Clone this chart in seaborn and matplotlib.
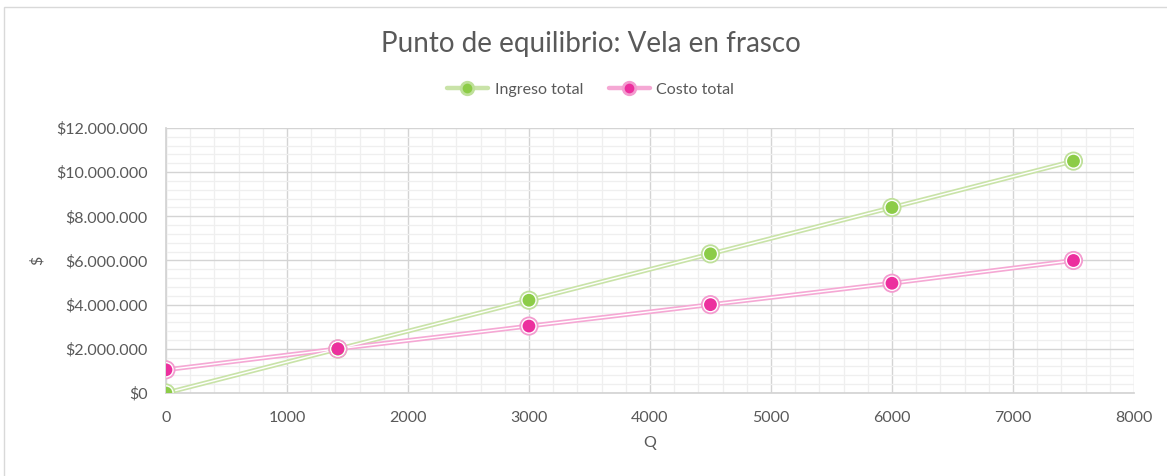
import matplotlib
matplotlib.use("Agg")
import matplotlib.pyplot as plt
import seaborn as sns
import pandas as pd
from matplotlib.ticker import FuncFormatter, MultipleLocator
from matplotlib.patches import Rectangle
from matplotlib.lines import Line2D

# Data
q = [0, 1421, 3000, 4500, 6000, 7500]
ingreso_total = [0, 1990000, 4200000, 6300000, 8400000, 10500000]
costo_total = [1050000, 2000000, 3030000, 4000000, 4970000, 6000000]
series_names = ["Ingreso total", "Costo total"]
title = "Punto de equilibrio: Vela en frasco"

df = pd.DataFrame({
    "Q": q * 2,
    "valor": ingreso_total + costo_total,
    "serie": [series_names[0]] * len(q) + [series_names[1]] * len(q),
})

sns.set_theme(style="white")
plt.rcParams["font.family"] = ["Lato", "DejaVu Sans"]

line_col = {"Ingreso total": "#c9e3a8", "Costo total": "#f5a8d4"}
mark_col = {"Ingreso total": "#8ccc47", "Costo total": "#ec2f9e"}
ring_col = {"Ingreso total": "#bfe09a", "Costo total": "#f39bcf"}
text_col = "#595959"

fig = plt.figure(figsize=(11.67, 4.76), dpi=100)
ax = fig.add_axes([0.1422, 0.1744, 0.9717 - 0.1422, 0.7311 - 0.1744])

# double-line effect: thick light line then thin white line
sns.lineplot(data=df, x="Q", y="valor", hue="serie", palette=line_col,
             linewidth=3.4, ax=ax, legend=False, zorder=3)
sns.lineplot(data=df, x="Q", y="valor", hue="serie",
             palette={k: "white" for k in series_names},
             linewidth=1.0, ax=ax, legend=False, zorder=4)
# markers: light ring with white gap and dark center
sns.scatterplot(data=df, x="Q", y="valor", hue="serie", palette=ring_col,
                s=190, linewidth=0, ax=ax, legend=False, zorder=5)
sns.scatterplot(data=df, x="Q", y="valor", hue="serie",
                palette={k: "white" for k in series_names},
                s=125, linewidth=0, ax=ax, legend=False, zorder=6)
sns.scatterplot(data=df, x="Q", y="valor", hue="serie", palette=mark_col,
                s=85, linewidth=0, ax=ax, legend=False, zorder=7)

ax.set_xlim(0, 8000)
ax.set_ylim(0, 12000000)
ax.xaxis.set_major_locator(MultipleLocator(1000))
ax.xaxis.set_minor_locator(MultipleLocator(200))
ax.yaxis.set_major_locator(MultipleLocator(2000000))
ax.yaxis.set_minor_locator(MultipleLocator(400000))
ax.grid(which="major", color="#d4d4d4", linewidth=1.0, zorder=0)
ax.grid(which="minor", color="#efefef", linewidth=0.9, zorder=0)
ax.set_axisbelow(True)

def money(v, pos):
    return "$" + f"{int(round(v)):,}".replace(",", ".")

ax.yaxis.set_major_formatter(FuncFormatter(money))
ax.tick_params(axis="both", which="both", length=0, labelsize=11.5,
               colors=text_col)
ax.tick_params(axis="y", pad=13)
ax.tick_params(axis="x", pad=13)
for s in ax.spines.values():
    s.set_visible(False)
ax.spines["left"].set_visible(True)
ax.spines["left"].set_color("#d4d4d4")
ax.spines["bottom"].set_visible(True)
ax.spines["bottom"].set_color("#d4d4d4")

ax.set_xlabel("Q", fontsize=11.5, color=text_col, labelpad=8)
ax.set_ylabel("$", fontsize=11.5, color=text_col, labelpad=8)

fig.text(0.506, 0.908, title, ha="center", va="center", fontsize=20,
         color=text_col)

# legend
handles = []
for name in series_names:
    h = Line2D([0], [0], color=line_col[name], linewidth=3.2,
               marker="o", markersize=9, markerfacecolor=mark_col[name],
               markeredgecolor=ring_col[name], markeredgewidth=2)
    handles.append(h)
fig.legend(handles=handles, labels=series_names, loc="center",
           bbox_to_anchor=(0.506, 0.811), ncol=2, frameon=False,
           fontsize=11.5, labelcolor=text_col, handlelength=2.6,
           columnspacing=1.6, handletextpad=0.4)

# chart area border
fig.patches.append(Rectangle((0.003, -0.01), 1.2, 0.995, transform=fig.transFigure,
                             fill=False, edgecolor="#d9d9d9", linewidth=1.0))

fig.savefig("out.png", dpi=100)
